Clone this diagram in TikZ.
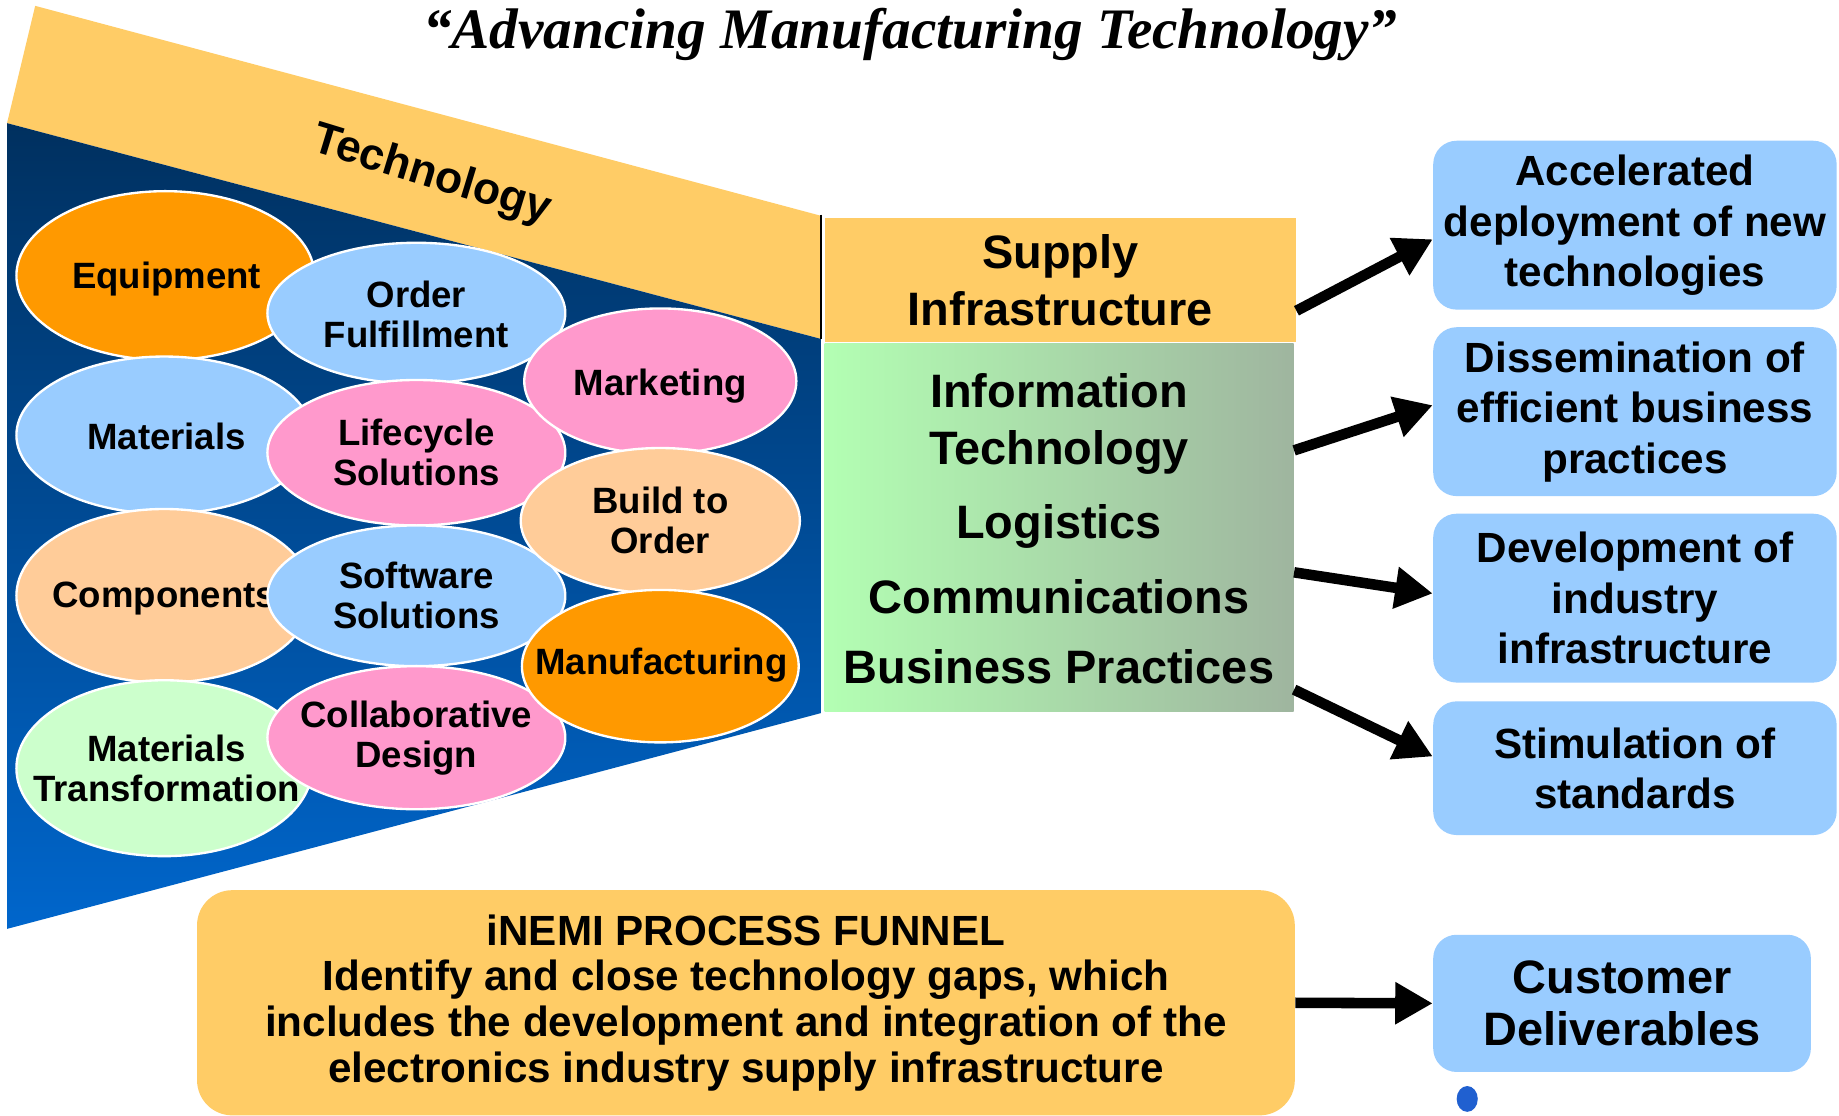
\documentclass[tikz,border=0pt]{standalone}
\usepackage{fontspec}
\setmainfont{Liberation Sans}
\newfontfamily\titlefont{Liberation Serif}
\usetikzlibrary{shapes.geometric,arrows.meta,calc}
\definecolor{band}{HTML}{FFCC66}
\definecolor{orng}{HTML}{FF9900}
\definecolor{lblue}{HTML}{99CCFF}
\definecolor{pinkc}{HTML}{FF99CC}
\definecolor{peach}{HTML}{FFCC99}
\definecolor{lgreen}{HTML}{CCFFCC}
\definecolor{navy}{HTML}{00305F}
\definecolor{bblue}{HTML}{0066CC}
\definecolor{gleft}{HTML}{B3FFB3}
\definecolor{gright}{HTML}{9FB59F}
\definecolor{dotblue}{HTML}{2060D0}
\tikzset{
  ell/.style={ellipse, draw=white, line width=1pt, inner sep=0pt},
  etxt/.style={inner sep=0pt, align=center, font=\bfseries\fontsize{15.6pt}{17pt}\selectfont},
  rbox/.style={rectangle, rounded corners=10pt, fill=lblue, inner sep=0pt, align=center,
    font=\bfseries\fontsize{18pt}{21.5pt}\selectfont},
  bigtxt/.style={anchor=base, font=\bfseries\fontsize{20pt}{24pt}\selectfont},
  arr/.style={line width=4.5pt, -{Triangle[length=16pt,width=17pt]}}
}
\begin{document}
\begin{tikzpicture}[x=0.5pt,y=-0.5pt]
\fill[white] (0,0) rectangle (1568,951);
\useasboundingbox (0,0) rectangle (1568,951);
% title
\node[anchor=base, font=\titlefont\bfseries\itshape\fontsize{24.4pt}{28pt}\selectfont] (title) at (776,41) {“Advancing Manufacturing Technology”};
% funnel
\fill[band] (30,5) -- (700,184) -- (700,289) -- (6,105) -- cycle;
\shade[top color=navy, bottom color=bblue] (6,105) -- (700,289) -- (700,608) -- (6,792) -- cycle;
\draw[line width=1pt] (700,183) -- (700,289);
\node[rotate=-17, font=\bfseries\fontsize{19pt}{22pt}\selectfont] (tech) at (368,150) {Technology};
% ellipses
\node[ell, fill=orng, minimum width=127pt, minimum height=72pt] (eq) at (141,235) {};
\node[etxt] (eqt) at (142,238) {Equipment};
\node[ell, fill=lblue, minimum width=126pt, minimum height=67pt] (mat) at (140,371) {};
\node[etxt] (matt) at (142,372) {Materials};
\node[ell, fill=peach, minimum width=126pt, minimum height=74pt] (comp) at (140,508) {};
\node[etxt] (compt) at (140,510) {Components};
\node[ell, fill=lgreen, minimum width=126pt, minimum height=75pt] (mt) at (140,655) {};
\node[etxt] (mtt) at (142,655) {Materials\\Transformation};
\node[ell, fill=lblue, minimum width=127pt, minimum height=60pt] (of) at (355,267) {};
\node[etxt] (oft) at (355,268) {Order\\Fulfillment};
\node[ell, fill=pinkc, minimum width=127pt, minimum height=62pt] (life) at (355,386) {};
\node[etxt] (lifet) at (355,386) {Lifecycle\\Solutions};
\node[ell, fill=lblue, minimum width=127pt, minimum height=60pt] (soft) at (355,508) {};
\node[etxt] (softt) at (355,508) {Software\\Solutions};
\node[ell, fill=pinkc, minimum width=127pt, minimum height=61pt] (collab) at (355,629) {};
\node[etxt] (collabt) at (355,629) {Collaborative\\Design};
\node[ell, fill=pinkc, minimum width=116pt, minimum height=62pt] (mkt) at (563,325) {};
\node[etxt] (mktt) at (563,329) {Marketing};
\node[ell, fill=peach, minimum width=119pt, minimum height=62pt] (bto) at (563,444) {};
\node[etxt] (btot) at (563,444) {Build to\\Order};
\node[ell, fill=orng, minimum width=118pt, minimum height=65pt] (manu) at (563,568) {};
\node[etxt] (manut) at (564,567) {Manufacturing};
% supply and green boxes
\node[rectangle, fill=band, inner sep=0pt, minimum width=201pt, minimum height=53pt, align=center,
  font=\bfseries\fontsize{20pt}{24.5pt}\selectfont] (supply) at (904,239) {Supply\\Infrastructure};
\node[rectangle, left color=gleft, right color=gright, inner sep=0pt, minimum width=200pt, minimum height=157pt] (green) at (903,450) {};
\node[bigtxt] (t1) at (903,347.5) {Information};
\node[bigtxt] (t2) at (903,396) {Technology};
\node[bigtxt] (t3) at (903,459) {Logistics};
\node[bigtxt] (t4) at (903,523) {Communications};
\node[bigtxt] (t5) at (903,583) {Business Practices};
% right boxes
\node[rbox, minimum width=172pt, minimum height=72pt] (box1) at (1394,192) {Accelerated\\deployment of new\\technologies};
\node[rbox, minimum width=172pt, minimum height=72pt] (box2) at (1394,351) {Dissemination of\\efficient business\\practices};
\node[rbox, minimum width=172pt, minimum height=72pt] (box3) at (1394,510) {Development of\\industry\\infrastructure};
\node[rbox, minimum width=172pt, minimum height=57pt] (box4) at (1394,655) {Stimulation of\\standards};
\node[rbox, minimum width=161pt, minimum height=58.5pt, font=\bfseries\fontsize{20pt}{22pt}\selectfont] (cust) at (1383,855.5) {Customer\\Deliverables};
\node[rectangle, rounded corners=15pt, fill=band, inner sep=0pt, minimum width=468pt, minimum height=96pt, align=center,
  font=\bfseries\fontsize{18pt}{19.5pt}\selectfont] (inemi) at (636,855) {iNEMI PROCESS FUNNEL\\Identify and close technology gaps, which\\includes the development and integration of the\\electronics industry supply infrastructure};
% arrows
\draw[arr] ([yshift=-13pt]supply.east) -- ([yshift=-6pt]box1.west);
\draw[arr] ([yshift=33pt]green.east) -- ([yshift=2.75pt]box2.west);
\draw[arr] ([yshift=-19pt]green.east) -- ([yshift=2pt]box3.west);
\draw[arr] ([yshift=-69pt]green.east) -- ([yshift=5pt]box4.west);
\draw[arr] (inemi.east) -- (cust.west);
% blue dot
\fill[dotblue] (1251,937) ellipse (9 and 11);
\end{tikzpicture}
\end{document}
